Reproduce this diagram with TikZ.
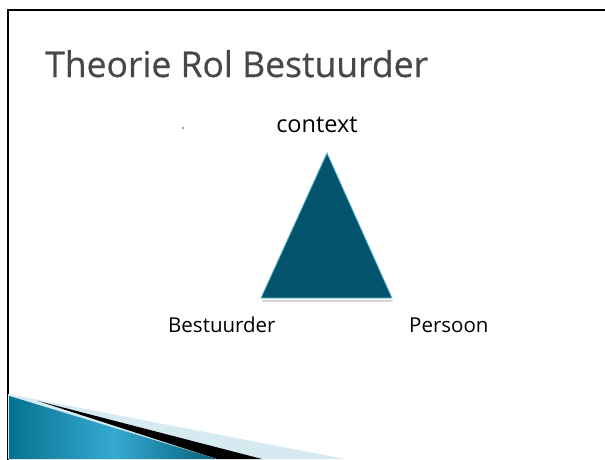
\documentclass[tikz,border=0pt]{standalone}
\usepackage{fontspec}
\setmainfont{Open Sans}
\newfontfamily\titlefont[FakeBold=0.6]{Open Sans}
\definecolor{tri}{HTML}{02536B}
\definecolor{triedge}{HTML}{5BB8D6}
\definecolor{titlegray}{HTML}{484848}
\definecolor{paleblue}{HTML}{D5EAF1}
\definecolor{bluedark}{HTML}{07728F}
\definecolor{bluelight}{HTML}{35A9D2}
\definecolor{dotorange}{HTML}{F06020}
\tikzset{
  label/.style={inner sep=0pt, anchor=base west, font=\fontsize{20.5}{24}\selectfont},
  frame/.style={line width=2.5pt, black}
}
\begin{document}
\begin{tikzpicture}[x=1pt, y=-1pt]
\useasboundingbox (0,0) rectangle (605,459);
\fill[white] (0,0) rectangle (605,459);
% frame
\draw[frame] (606,10) -- (8,10) -- (8,460);
% bottom decoration
\fill[paleblue] (8,394) -- (345,459) -- (8,459) -- cycle;
\fill[black] (38,401) -- (262,459) -- (217,459) -- cycle;
\shade[left color=bluedark, right color=bluedark!85!black, middle color=bluelight]
  (9.3,396) -- (217,459) -- (9.3,459) -- cycle;
% triangle
\fill[gray!40] (263,300) -- (393,300) -- (392,301.5) -- (262,301.5) -- cycle;
\filldraw[fill=tri, draw=triedge, line width=0.8pt] (327,153) -- (392,298) -- (261,298) -- cycle;
% dot
\fill[dotorange] (183,128) circle (1.1pt);
% texts
\node[inner sep=0pt, anchor=base west, text=titlegray, font=\titlefont\fontsize{35.5}{40}\selectfont] (title) at (45,77) {Theorie Rol Bestuurder};
\node[inner sep=0pt, anchor=base, font=\fontsize{23.5}{28}\selectfont] (context) at (317,132) {context};
\node[label] (bestuurder) at (168,332) {Bestuurder};
\node[label] (persoon) at (409,332) {Persoon};
\end{tikzpicture}
\end{document}
